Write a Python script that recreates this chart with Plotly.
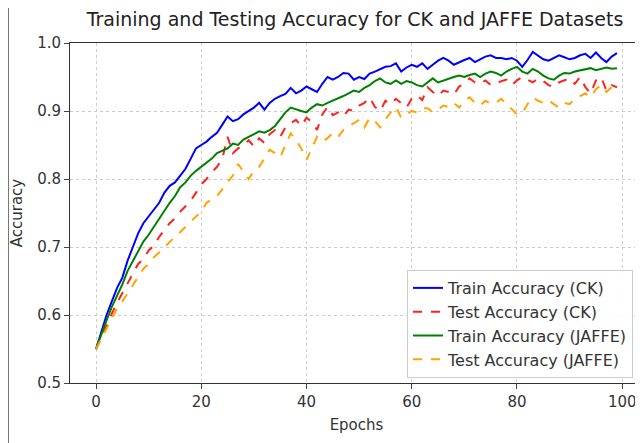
import plotly.graph_objects as go

epochs = list(range(100))

train_ck = [0.550, 0.575, 0.600, 0.620, 0.640, 0.655, 0.680, 0.700, 0.720, 0.735,
            0.745, 0.755, 0.765, 0.780, 0.790, 0.795, 0.805, 0.815, 0.830, 0.845,
            0.850, 0.855, 0.862, 0.868, 0.880, 0.892, 0.885, 0.888, 0.895, 0.900,
            0.905, 0.912, 0.902, 0.912, 0.918, 0.922, 0.925, 0.934, 0.926, 0.930,
            0.936, 0.932, 0.928, 0.940, 0.950, 0.946, 0.950, 0.956, 0.955, 0.946,
            0.950, 0.947, 0.955, 0.958, 0.962, 0.965, 0.966, 0.970, 0.958, 0.964,
            0.968, 0.965, 0.970, 0.962, 0.968, 0.974, 0.978, 0.974, 0.968, 0.972,
            0.975, 0.978, 0.972, 0.976, 0.980, 0.982, 0.978, 0.978, 0.976, 0.978,
            0.974, 0.965, 0.975, 0.987, 0.982, 0.976, 0.974, 0.978, 0.982, 0.979,
            0.976, 0.978, 0.982, 0.984, 0.978, 0.986, 0.978, 0.972, 0.980, 0.985]

test_ck = [0.550, 0.568, 0.585, 0.602, 0.618, 0.632, 0.648, 0.660, 0.675, 0.682,
           0.695, 0.702, 0.715, 0.725, 0.735, 0.742, 0.752, 0.760, 0.768, 0.780,
           0.792, 0.800, 0.810, 0.818, 0.830, 0.862, 0.838, 0.845, 0.850, 0.857,
           0.848, 0.860, 0.853, 0.866, 0.872, 0.862, 0.876, 0.882, 0.887, 0.878,
           0.890, 0.884, 0.872, 0.895, 0.906, 0.894, 0.898, 0.892, 0.902, 0.900,
           0.908, 0.912, 0.920, 0.906, 0.900, 0.915, 0.910, 0.918, 0.912, 0.905,
           0.918, 0.923, 0.916, 0.935, 0.928, 0.922, 0.930, 0.928, 0.924, 0.936,
           0.940, 0.948, 0.942, 0.940, 0.945, 0.938, 0.940, 0.944, 0.946, 0.938,
           0.945, 0.950, 0.946, 0.942, 0.948, 0.944, 0.938, 0.935, 0.942, 0.945,
           0.948, 0.940, 0.950, 0.935, 0.926, 0.945, 0.950, 0.930, 0.938, 0.935]

train_jaffe = [0.550, 0.572, 0.592, 0.612, 0.628, 0.645, 0.665, 0.680, 0.695, 0.708,
               0.718, 0.730, 0.742, 0.755, 0.765, 0.775, 0.788, 0.795, 0.805, 0.812,
               0.818, 0.825, 0.830, 0.838, 0.842, 0.845, 0.852, 0.850, 0.858, 0.862,
               0.866, 0.870, 0.868, 0.872, 0.878, 0.888, 0.898, 0.905, 0.902, 0.900,
               0.898, 0.905, 0.910, 0.908, 0.912, 0.915, 0.918, 0.922, 0.926, 0.930,
               0.928, 0.934, 0.938, 0.944, 0.948, 0.942, 0.940, 0.945, 0.940, 0.944,
               0.942, 0.938, 0.936, 0.942, 0.948, 0.942, 0.945, 0.948, 0.950, 0.952,
               0.950, 0.953, 0.955, 0.950, 0.955, 0.958, 0.956, 0.952, 0.958, 0.962,
               0.965, 0.958, 0.955, 0.962, 0.958, 0.952, 0.948, 0.946, 0.952, 0.956,
               0.955, 0.958, 0.960, 0.962, 0.963, 0.960, 0.962, 0.964, 0.962, 0.963]

test_jaffe = [0.550, 0.565, 0.580, 0.595, 0.610, 0.620, 0.632, 0.645, 0.655, 0.668,
              0.675, 0.685, 0.692, 0.700, 0.708, 0.715, 0.722, 0.730, 0.738, 0.745,
              0.752, 0.765, 0.770, 0.775, 0.785, 0.795, 0.805, 0.822, 0.810, 0.800,
              0.812, 0.818, 0.830, 0.843, 0.838, 0.832, 0.850, 0.867, 0.858, 0.845,
              0.828, 0.845, 0.862, 0.855, 0.860, 0.868, 0.862, 0.872, 0.878, 0.882,
              0.887, 0.876, 0.890, 0.885, 0.876, 0.888, 0.898, 0.906, 0.890, 0.895,
              0.900, 0.898, 0.904, 0.904, 0.898, 0.902, 0.908, 0.906, 0.912, 0.905,
              0.915, 0.920, 0.912, 0.908, 0.915, 0.911, 0.912, 0.918, 0.910, 0.902,
              0.895, 0.897, 0.910, 0.920, 0.915, 0.912, 0.916, 0.910, 0.905, 0.912,
              0.910, 0.918, 0.922, 0.926, 0.920, 0.932, 0.938, 0.928, 0.935, 0.930]

x_ticks = [0, 20, 40, 60, 80, 100]
y_ticks = [0.5, 0.6, 0.7, 0.8, 0.9, 1.0]
y_tick_labels = ["0.5", "0.6", "0.7", "0.8", "0.9", "1.0"]

series = [
    ("Train Accuracy (CK)", train_ck, "#0000ff", "solid"),
    ("Test Accuracy (CK)", test_ck, "#ff2020", "dash"),
    ("Train Accuracy (JAFFE)", train_jaffe, "#008000", "solid"),
    ("Test Accuracy (JAFFE)", test_jaffe, "#ffa500", "dash"),
]

fig = go.Figure()
for name, vals, color, dash in series:
    fig.add_trace(go.Scatter(x=epochs, y=vals, mode="lines", name=name,
                             line=dict(color=color, width=2, dash=dash)))

# page body has an 8px margin, so offsets are compensated in the margins
L, T, PW, PH = 62, 35, 573, 340
font = "DejaVu Sans, sans-serif"
fig.update_layout(
    width=643, height=443,
    margin=dict(l=L, r=643 - L - PW, t=T, b=443 - T - PH, autoexpand=False),
    paper_bgcolor="white", plot_bgcolor="white",
    font=dict(family=font, size=15, color="#333333"),
    title=dict(text="Training and Testing Accuracy for CK and JAFFE Datasets",
               x=(355 - 8) / 643, xanchor="center", y=1 - 11 / 443, yanchor="middle",
               font=dict(size=19, color="#222222", family=font)),
    showlegend=True,
    legend=dict(x=1 - 10 / PW, xanchor="right", y=5 / PH, yanchor="bottom",
                bgcolor="rgba(255,255,255,0.9)", bordercolor="#cccccc", borderwidth=1,
                font=dict(size=16, color="#333333"), tracegroupgap=0, itemwidth=30),
)
fig.update_xaxes(range=[-4.95, 103.95], tickvals=x_ticks, ticks="outside", ticklen=5,
                 showline=True, linecolor="#333333", linewidth=1, mirror=True,
                 showgrid=True, gridcolor="#cccccc", griddash="dot", gridwidth=1,
                 zeroline=False, automargin=False,
                 title=dict(text="Epochs", font=dict(size=15), standoff=9),
                 tickfont=dict(size=15))
fig.update_yaxes(range=[0.5, 1.0], tickvals=y_ticks, ticktext=y_tick_labels,
                 ticks="outside", ticklen=5,
                 showline=True, linecolor="#333333", linewidth=1, mirror=True,
                 showgrid=True, gridcolor="#cccccc", griddash="dot", gridwidth=1,
                 zeroline=False, automargin=False,
                 title=dict(text="Accuracy", font=dict(size=15), standoff=10),
                 tickfont=dict(size=15))

fig.add_shape(type="line", xref="paper", yref="paper",
              x0=-L / PW + 0.5 / PW, x1=-L / PW + 0.5 / PW,
              y0=-(443 - T - PH) / PH, y1=1 + T / PH,
              line=dict(color="#777777", width=1))

fig.write_html("out.html")
